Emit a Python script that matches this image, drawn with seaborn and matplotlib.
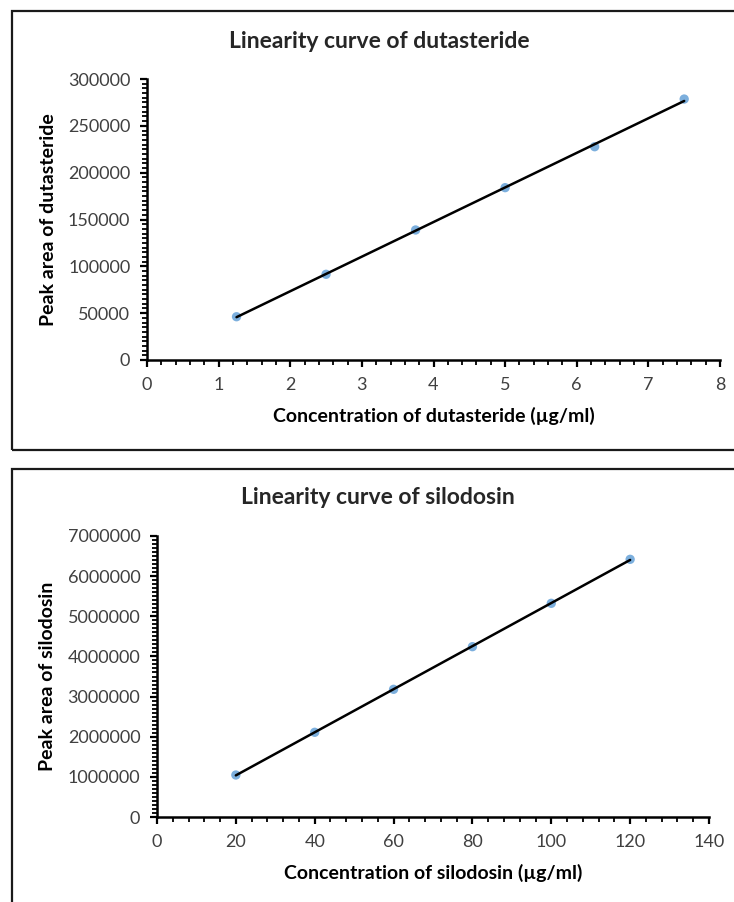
import numpy as np
import pandas as pd
import matplotlib
matplotlib.use("Agg")
import matplotlib.pyplot as plt
import seaborn as sns
from matplotlib.ticker import MultipleLocator, FuncFormatter
from matplotlib.patches import Rectangle

# ---- data ----
dut_conc = [1.25, 2.5, 3.75, 5.0, 6.25, 7.5]
dut_area = [46200, 91500, 138800, 184000, 227700, 278600]
sil_conc = [20, 40, 60, 80, 100, 120]
sil_area = [1046000, 2110000, 3181000, 4243000, 5323000, 6419000]

dut_title = "Linearity curve of dutasteride"
sil_title = "Linearity curve of silodosin"
dut_xlabel = "Concentration of dutasteride (µg/ml)"
sil_xlabel = "Concentration of silodosin (µg/ml)"
dut_ylabel = "Peak area of dutasteride"
sil_ylabel = "Peak area of silodosin"

sns.set_style("white")
plt.rcParams['font.family'] = ['Lato', 'DejaVu Sans']

W, H = 734, 902
fig = plt.figure(figsize=(W / 100, H / 100), dpi=100)

def fx(px):
    return px / W

def fy(py):
    return 1 - py / H

# Panel borders
fig.patches.append(Rectangle((fx(12), fy(450)), fx(740) - fx(12), fy(11) - fy(450),
                             transform=fig.transFigure, fill=False, edgecolor='#1a1a1a', linewidth=1.6))
fig.patches.append(Rectangle((fx(12), fy(910)), fx(740) - fx(12), fy(469) - fy(910),
                             transform=fig.transFigure, fill=False, edgecolor='#1a1a1a', linewidth=1.6))

dot_color = '#5B9BD5'

def panel(ax_rect, x, y, xmax, xmaj, xmin, ymax, ymaj, ymin, xlabel, ylabel):
    ax = fig.add_axes(ax_rect)
    df = pd.DataFrame({'x': x, 'y': y})
    sns.regplot(data=df, x='x', y='y', ax=ax, ci=None, truncate=True,
                scatter_kws=dict(s=45, color=dot_color, edgecolor='none', zorder=2),
                line_kws=dict(color='black', linewidth=1.8, zorder=3))
    ax.set_xlim(0, xmax)
    ax.set_ylim(0, ymax)
    ax.xaxis.set_major_locator(MultipleLocator(xmaj))
    ax.xaxis.set_minor_locator(MultipleLocator(xmin))
    ax.yaxis.set_major_locator(MultipleLocator(ymaj))
    ax.yaxis.set_minor_locator(MultipleLocator(ymin))
    ax.yaxis.set_major_formatter(FuncFormatter(lambda v, p: f"{v:.0f}"))
    ax.xaxis.set_major_formatter(FuncFormatter(lambda v, p: f"{v:g}"))
    for s in ['top', 'right']:
        ax.spines[s].set_visible(False)
    for s in ['left', 'bottom']:
        ax.spines[s].set_color('black')
        ax.spines[s].set_linewidth(1.8)
    ax.tick_params(which='major', direction='out', length=5, width=1.6, color='black',
                   labelsize=13, labelcolor='#404040', pad=7)
    ax.tick_params(which='minor', direction='out', length=3.5, width=1.3, color='black')
    ax.tick_params(axis='x', which='both', bottom=True)
    ax.tick_params(axis='y', which='both', left=True)
    ax.set_xlabel(xlabel, fontsize=14, fontweight='bold', color='black')
    ax.set_ylabel(ylabel, fontsize=14, fontweight='bold', color='black')
    ax.set_facecolor('white')
    return ax

ax1 = panel([fx(147), fy(360), fx(720) - fx(147), fy(79) - fy(360)],
            dut_conc, dut_area, 8, 1, 0.2, 300000, 50000, 5000, dut_xlabel, dut_ylabel)
ax2 = panel([fx(157), fy(817), fx(709) - fx(157), fy(536) - fy(817)],
            sil_conc, sil_area, 140, 20, 4, 7000000, 1000000, 100000, sil_xlabel, sil_ylabel)

ax1.xaxis.set_label_coords(0.5, -0.168)
ax1.yaxis.set_label_coords(-0.157, 0.5)
ax2.xaxis.set_label_coords(0.5, -0.168)
ax2.yaxis.set_label_coords(-0.183, 0.5)

fig.text(fx(379), fy(41), dut_title, ha='center', va='center', fontsize=16.5, fontweight='bold')
fig.text(fx(378), fy(497), sil_title, ha='center', va='center', fontsize=16.5, fontweight='bold')

fig.savefig('out.png', dpi=100, facecolor='white')
